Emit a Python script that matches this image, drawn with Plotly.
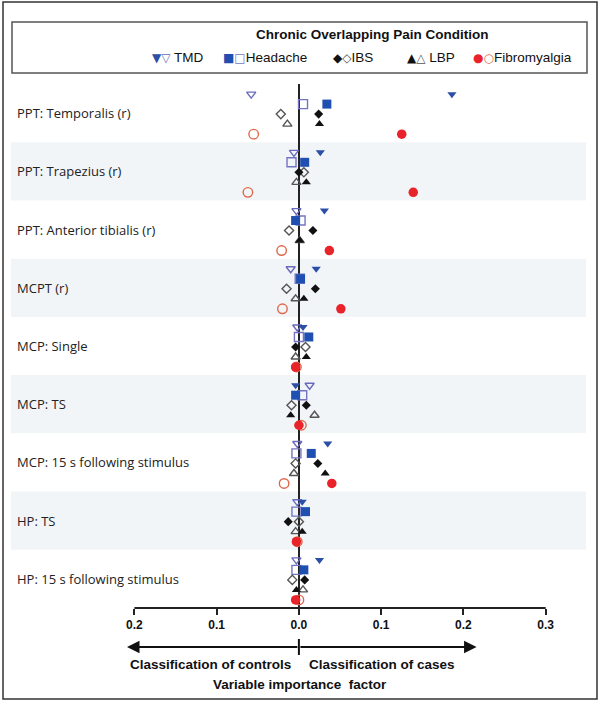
import plotly.graph_objects as go

# --- data ---
rows = [
    "PPT: Temporalis (r)",
    "PPT: Trapezius (r)",
    "PPT: Anterior tibialis (r)",
    "MCPT (r)",
    "MCP: Single",
    "MCP: TS",
    "MCP: 15 s following stimulus",
    "HP: TS",
    "HP: 15 s following stimulus",
]

# filled marker = cases, open marker = controls
tmd_filled = [0.186, 0.026, 0.031, 0.021, 0.005, -0.004, 0.035, 0.004, 0.025]
tmd_open = [-0.058, -0.006, -0.003, -0.010, -0.002, 0.013, -0.002, -0.002, -0.003]
headache_filled = [0.034, 0.007, -0.004, 0.002, 0.012, -0.004, 0.015, 0.008, 0.006]
headache_open = [0.005, -0.009, 0.002, 0.001, 0.000, 0.004, -0.003, -0.003, -0.003]
ibs_filled = [0.024, 0.000, 0.017, 0.020, -0.004, 0.009, 0.023, -0.013, 0.007]
ibs_open = [-0.022, 0.006, -0.012, -0.015, 0.008, -0.009, -0.004, 0.000, -0.008]
lbp_filled = [0.025, 0.009, 0.001, 0.006, 0.009, -0.010, 0.032, 0.004, -0.003]
lbp_open = [-0.014, -0.003, 0.001, -0.004, -0.004, 0.019, -0.006, -0.004, 0.005]
fibro_filled = [0.125, 0.139, 0.037, 0.051, -0.004, 0.000, 0.040, -0.003, -0.004]
fibro_open = [-0.055, -0.062, -0.021, -0.020, -0.003, 0.003, -0.018, -0.002, 0.000]

tick_vals = [-0.2, -0.1, 0.0, 0.1, 0.2, 0.3]
tick_text = ["0.2", "0.1", "0.0", "0.1", "0.2", "0.3"]

# --- styling ---
conditions = [
    # name, filled, open, symbol, size, fill colour, open colour, row offset
    ("TMD", tmd_filled, tmd_open, "triangle-down", 8, "#2b4ea6", "#6b6bbd", -0.326),
    ("Headache", headache_filled, headache_open, "square", 9, "#1f4fb0", "#7474c2", -0.155),
    ("IBS", ibs_filled, ibs_open, "diamond", 7, "#111111", "#555555", 0.017),
    ("LBP", lbp_filled, lbp_open, "triangle-up", 8, "#111111", "#555555", 0.189),
    ("Fibromyalgia", fibro_filled, fibro_open, "circle", 9.5, "#e8232a", "#e0674a", 0.361),
]

L, R, T, B = 11, 14, 84, 95
W, H = 600, 703
pw, ph = W - L - R, H - T - B


def px_x(px):
    return (px - L) / pw


def px_y(py):
    return (H - B - py) / ph


fig = go.Figure()

# open markers underneath, filled on top
for name, filled, opn, sym, size, fc, oc, off in conditions:
    fig.add_trace(go.Scatter(
        x=opn, y=[i + off for i in range(len(rows))], mode="markers",
        marker=dict(symbol=sym + "-open", size=size, color=oc, line=dict(width=1.4, color=oc)),
        name=name + " controls", showlegend=False,
    ))
for name, filled, opn, sym, size, fc, oc, off in conditions:
    fig.add_trace(go.Scatter(
        x=filled, y=[i + off for i in range(len(rows))], mode="markers",
        marker=dict(symbol=sym, size=size, color=fc, line=dict(width=0)),
        name=name + " cases", showlegend=False,
    ))

shapes = []
# alternating row bands
for i in range(1, len(rows), 2):
    shapes.append(dict(type="rect", xref="paper", yref="y", x0=0, x1=1,
                       y0=i - 0.5, y1=i + 0.5, fillcolor="#f2f5f8",
                       line=dict(width=0), layer="below"))
# bottom axis line between -0.2 and 0.3
shapes.append(dict(type="line", xref="x", yref="paper", x0=tick_vals[0], x1=tick_vals[-1],
                   y0=0, y1=0, line=dict(color="#222", width=2)))
# small divider on the arrow line
shapes.append(dict(type="line", xref="x", yref="paper", x0=0, x1=0,
                   y0=px_y(639), y1=px_y(655), line=dict(color="#111", width=2)))
# legend box and outer frame
shapes.append(dict(type="rect", xref="paper", yref="paper", x0=px_x(12), x1=px_x(587),
                   y0=px_y(73), y1=px_y(22), line=dict(color="#555", width=1.5)))
shapes.append(dict(type="rect", xref="paper", yref="paper", x0=px_x(3), x1=px_x(597),
                   y0=px_y(699), y1=px_y(2), line=dict(color="#333", width=1.5)))

bold = dict(family="Liberation Sans, Arial", size=13.5, color="#111")
annotations = []
arrow_y = px_y(647)
for tip in (-0.209, 0.216):
    annotations.append(dict(xref="x", yref="paper", x=tip, y=arrow_y, text="",
                            axref="x", ayref="pixel", ax=0, ay=0, showarrow=True,
                            arrowhead=2, arrowsize=1.25, arrowwidth=2, arrowcolor="#111"))
annotations += [
    dict(xref="x", yref="paper", x=-0.007, y=px_y(664), xanchor="right", yanchor="middle",
         text="<b>Classification of controls</b>", showarrow=False, font=bold),
    dict(xref="x", yref="paper", x=0.0097, y=px_y(664), xanchor="left", yanchor="middle",
         text="<b>Classification of cases</b>", showarrow=False, font=bold),
    dict(xref="x", yref="paper", x=0.001, y=px_y(684), xanchor="center", yanchor="middle",
         text="<b>Variable importance  factor</b>", showarrow=False, font=bold),
    dict(xref="paper", yref="paper", x=px_x(372), y=px_y(35), xanchor="center", yanchor="middle",
         text="<b>Chronic Overlapping Pain Condition</b>", showarrow=False, font=bold),
]

# row labels, left-aligned inside the plot
for i, lab in enumerate(rows):
    annotations.append(dict(xref="paper", yref="y", x=px_x(15), y=i, xanchor="left",
                            yanchor="middle", text=lab, showarrow=False,
                            font=dict(family="Open Sans", size=13, color="#222")))

legend_glyphs = {"TMD": ("▼", "▽", " "), "Headache": ("■", "□", ""), "IBS": ("◆", "◇", ""),
                 "LBP": ("▲", "△", " "), "Fibromyalgia": ("●", "○", "")}
legend_x = [150, 221, 331, 405, 471]
for (name, _, _, _, _, fc, oc, _), lx in zip(conditions, legend_x):
    g1, g2, sep = legend_glyphs[name]
    txt = ('<span style="font-family:DejaVu Sans;font-size:12px;color:%s">%s</span>'
           '<span style="font-family:DejaVu Sans;font-size:12px;color:%s">%s</span>%s%s'
           % (fc, g1, oc, g2, sep, name))
    annotations.append(dict(xref="paper", yref="paper", x=px_x(lx), y=px_y(57),
                            xanchor="left", yanchor="middle", text=txt, showarrow=False,
                            font=dict(family="Liberation Sans, Arial", size=13.5, color="#111")))

fig.update_layout(
    width=W, height=H,
    margin=dict(l=L, r=R, t=T, b=B),
    paper_bgcolor="white", plot_bgcolor="white",
    shapes=shapes, annotations=annotations,
    xaxis=dict(range=[-0.35, 0.349], showgrid=False, showline=False,
               zeroline=True, zerolinecolor="#222", zerolinewidth=2,
               tickmode="array", tickvals=tick_vals, ticktext=tick_text,
               ticks="outside", ticklen=6, tickwidth=1.5, tickcolor="#222",
               tickfont=dict(family="Liberation Sans, Arial", size=12, color="#111", weight="bold")),
    yaxis=dict(range=[len(rows) - 0.5, -0.5], showgrid=False, zeroline=False, showline=False,
               showticklabels=False, ticks=""),
)

# drop the browser's default body margin so the figure sits at the page origin
fig.write_html("out.html", config={"displayModeBar": False},
               post_script="document.body.style.margin='0';")
